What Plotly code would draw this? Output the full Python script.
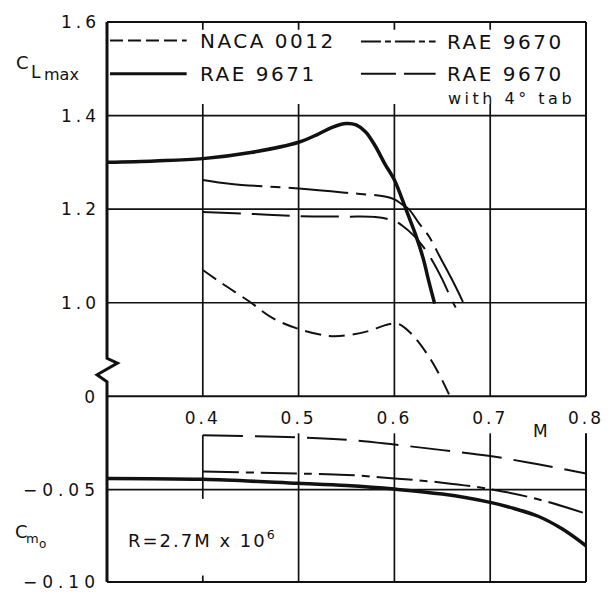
import plotly.graph_objects as go

# ---- C_L,max against Mach number (upper panel) ----
m_naca = [0.40, 0.421, 0.449, 0.473, 0.50, 0.532, 0.553, 0.574, 0.594, 0.605, 0.618, 0.633, 0.646, 0.657]
cl_naca = [1.07, 1.04, 1.002, 0.967, 0.944, 0.929, 0.931, 0.94, 0.954, 0.954, 0.933, 0.894, 0.85, 0.804]

m_9671 = [0.30, 0.35, 0.40, 0.45, 0.50, 0.52, 0.535, 0.55, 0.56, 0.57, 0.58, 0.59, 0.60, 0.608, 0.615, 0.622, 0.630, 0.636, 0.642]
cl_9671 = [1.300, 1.303, 1.308, 1.321, 1.343, 1.360, 1.375, 1.383, 1.380, 1.365, 1.335, 1.297, 1.2625, 1.222, 1.184, 1.146, 1.095, 1.045, 0.998]

m_9670 = [0.40, 0.43, 0.50, 0.55, 0.59, 0.60, 0.608, 0.615, 0.626, 0.636, 0.648, 0.660, 0.672]
cl_9670 = [1.2625, 1.254, 1.244, 1.235, 1.227, 1.221, 1.210, 1.200, 1.169, 1.142, 1.096, 1.050, 1.000]

m_9670_tab = [0.40, 0.45, 0.50, 0.55, 0.58, 0.60, 0.608, 0.620, 0.630, 0.639, 0.650, 0.660, 0.664]
cl_9670_tab = [1.194, 1.190, 1.185, 1.184, 1.183, 1.175, 1.165, 1.144, 1.120, 1.092, 1.050, 1.005, 0.990]

# ---- C_m0 against Mach number (lower panel) ----
m_cm_9671 = [0.30, 0.40, 0.50, 0.55, 0.60, 0.65, 0.70, 0.725, 0.75, 0.775, 0.80]
cm_9671 = [-0.0439, -0.0444, -0.0466, -0.0478, -0.0497, -0.0524, -0.0569, -0.0602, -0.0644, -0.0712, -0.0804]

m_cm_9670 = [0.40, 0.50, 0.55, 0.60, 0.65, 0.70, 0.75, 0.80]
cm_9670 = [-0.0402, -0.0413, -0.0420, -0.0439, -0.0462, -0.0497, -0.0552, -0.0630]

m_cm_9670_tab = [0.40, 0.50, 0.55, 0.60, 0.65, 0.70, 0.75, 0.80]
cm_9670_tab = [-0.0206, -0.0217, -0.0230, -0.0256, -0.0286, -0.0318, -0.0363, -0.0413]

# ---- axes ----
x_ticks = [0.4, 0.5, 0.6, 0.7, 0.8]
x_ticktext = ["0.4", "0.5", "0.6", "0.7", "0.8"]
cl_ticks = [1.0, 1.2, 1.4, 1.6]
cl_ticktext = ["1.0", "1.2", "1.4", "1.6"]
cm_ticks = [-0.10, -0.05, 0.0]
cm_ticktext = ["\u22120.10", "\u22120.05", "0"]

X_RANGE = (0.3, 0.8)
CL_RANGE = (0.8, 1.6)
CM_RANGE = (-0.10, 0.0)
TOP_DOM = (0.3316, 1.0)
BOT_DOM = (0.0, 0.3298)

W, H = 616, 604
ML, MR, MT, MB = 107, 28, 19, 12
PW, PH = W - ML - MR, H - MT - MB

INK = "#111111"
FONT = "DejaVu Sans"


def spaced(txt, px):
    return f'<span style="letter-spacing:{px}px">{txt}</span>'


def xp(m):
    return (m - X_RANGE[0]) / (X_RANGE[1] - X_RANGE[0])


def yp_top(cl):
    return TOP_DOM[0] + (cl - CL_RANGE[0]) / (CL_RANGE[1] - CL_RANGE[0]) * (TOP_DOM[1] - TOP_DOM[0])


def yp_bot(cm):
    return BOT_DOM[0] + (cm - CM_RANGE[0]) / (CM_RANGE[1] - CM_RANGE[0]) * (BOT_DOM[1] - BOT_DOM[0])


def pix(xpx, ypx):
    """page pixel -> paper fraction"""
    return (xpx - ML) / PW, (H - MB - ypx) / PH


def seg(x0, y0, x1, y1, width=1.7, dash="solid", layer="below"):
    return dict(type="line", xref="paper", yref="paper", x0=x0, y0=y0, x1=x1, y1=y1,
                line=dict(color=INK, width=width, dash=dash), layer=layer)


DASH_NACA = "16px,8px"
DASH_9670_TOP = "60px,8px,10px,8px"
DASH_9670_BOT = "36px,7px,8px,7px"
DASH_TAB = "38px,11px"
SMOOTH = 1.0

fig = go.Figure()

# upper panel curves
fig.add_trace(go.Scatter(x=m_naca, y=cl_naca, mode="lines", xaxis="x", yaxis="y",
                         line=dict(color=INK, width=2, dash=DASH_NACA, shape="spline", smoothing=SMOOTH)))
fig.add_trace(go.Scatter(x=m_9671, y=cl_9671, mode="lines", xaxis="x", yaxis="y",
                         line=dict(color=INK, width=3.5, shape="spline", smoothing=SMOOTH)))
fig.add_trace(go.Scatter(x=m_9670, y=cl_9670, mode="lines", xaxis="x", yaxis="y",
                         line=dict(color=INK, width=2, dash=DASH_9670_TOP, shape="spline", smoothing=SMOOTH)))
fig.add_trace(go.Scatter(x=m_9670_tab, y=cl_9670_tab, mode="lines", xaxis="x", yaxis="y",
                         line=dict(color=INK, width=2, dash=DASH_TAB, shape="spline", smoothing=SMOOTH)))

# lower panel curves
fig.add_trace(go.Scatter(x=m_cm_9671, y=cm_9671, mode="lines", xaxis="x2", yaxis="y2",
                         line=dict(color=INK, width=3.5, shape="spline", smoothing=SMOOTH)))
fig.add_trace(go.Scatter(x=m_cm_9670, y=cm_9670, mode="lines", xaxis="x2", yaxis="y2",
                         line=dict(color=INK, width=2, dash=DASH_9670_BOT, shape="spline", smoothing=SMOOTH)))
fig.add_trace(go.Scatter(x=m_cm_9670_tab, y=cm_9670_tab, mode="lines", xaxis="x2", yaxis="y2",
                         line=dict(color=INK, width=2, dash="40px,12px", shape="spline", smoothing=SMOOTH)))

shapes = []

# upper panel grid
for m in x_ticks[:-1]:
    shapes.append(seg(xp(m), yp_top(CL_RANGE[0]), xp(m), yp_top(CL_RANGE[1])))
for cl in cl_ticks[:-1]:
    shapes.append(seg(xp(X_RANGE[0]), yp_top(cl), xp(X_RANGE[1]), yp_top(cl)))

# white panel behind the key
kx0, ky0 = pix(110, 103)
kx1, ky1 = pix(586, 27)
shapes.append(dict(type="rect", xref="paper", yref="paper", x0=kx0, y0=ky0, x1=kx1, y1=ky1,
                   fillcolor="white", line=dict(width=0), layer="below"))

# upper panel frame (top, right, bottom)
shapes.append(seg(xp(0.3), yp_top(1.6), xp(0.8), yp_top(1.6), width=2))
shapes.append(seg(xp(0.8), yp_top(0.8), xp(0.8), yp_top(1.6), width=2))
shapes.append(seg(xp(0.3), yp_top(0.8), xp(0.8), yp_top(0.8), width=2))

# lower panel grid and frame
CM_GRID_TOP = -0.0195
shapes.append(seg(xp(0.3), yp_bot(-0.05), xp(0.8), yp_bot(-0.05)))
for m in [0.5, 0.6, 0.7]:
    shapes.append(seg(xp(m), yp_bot(CM_GRID_TOP), xp(m), yp_bot(-0.10)))
shapes.append(seg(xp(0.4), yp_bot(-0.0205), xp(0.4), yp_bot(-0.055)))
shapes.append(seg(xp(0.4), yp_bot(-0.0965), xp(0.4), yp_bot(-0.10)))
shapes.append(seg(xp(0.8), yp_bot(CM_GRID_TOP), xp(0.8), yp_bot(-0.10), width=2))
shapes.append(seg(xp(0.3), yp_bot(-0.10), xp(0.8), yp_bot(-0.10), width=2))

# left axis with the broken-scale zigzag
zig = [(0.3, yp_top(1.6)), (0.3, yp_top(0.881)), (0.3109, yp_top(0.871)),
       (0.2896, yp_top(0.846)), (0.3, yp_top(0.831)), (0.3, yp_top(0.8)),
       (0.3, yp_bot(0.0)), (0.3, yp_bot(-0.10))]
path = "M " + " L ".join(f"{xp(a):.5f},{b:.5f}" for a, b in zig)
shapes.append(dict(type="path", xref="paper", yref="paper", path=path,
                   line=dict(color=INK, width=3), layer="above"))


# key samples
def key_line(xa, xb, ypx, width, dash):
    a, y = pix(xa, ypx)
    b, _ = pix(xb, ypx)
    return seg(a, y, b, y, width=width, dash=dash, layer="above")


shapes.append(key_line(110, 187, 38, 2, "13px,5px"))
shapes.append(key_line(110, 187, 72, 3, "solid"))
shapes.append(key_line(362, 437, 39, 2, "20px,4px,6px,4px"))
shapes.append(key_line(362, 437, 72, 2, "35px,8px"))

annotations = []


def label(txt, xpx, ypx, size, xanchor="left"):
    x, y = pix(xpx, ypx)
    annotations.append(dict(text=txt, x=x, y=y, xref="paper", yref="paper",
                            xanchor=xanchor, yanchor="middle", showarrow=False,
                            font=dict(family=FONT, size=size, color=INK)))


label(spaced("NACA 0012", 2.5), 198, 38, 20)
label(spaced("RAE 9671", 2.5), 198, 72, 20)
label(spaced("RAE 9670", 2.5), 446, 39, 20)
label(spaced("RAE 9670", 2.5), 446, 72, 20)
label(spaced("with 4\u00b0 tab", 3.5), 447, 97, 16)

label("C", 22, 60, 18, "center")
label("L", 36, 70, 17, "center")
label("max", 42, 73, 16)
label("C", 21, 540, 18, "center")
label("m", 32, 548, 13, "center")
label("o", 42, 553, 12, "center")
label("M", 542, 437, 17, "center")
label(spaced("R=2.7M x 10<sup>6</sup>", 2), 126, 548, 18)

tick_font = dict(family=FONT, size=17, color=INK)

fig.update_layout(
    width=W, height=H,
    margin=dict(l=ML, r=MR, t=MT, b=MB, pad=0),
    paper_bgcolor="white", plot_bgcolor="rgba(0,0,0,0)",
    showlegend=False,
    shapes=shapes,
    annotations=annotations,
    xaxis=dict(domain=[0, 1], range=list(X_RANGE), anchor="y",
               tickvals=x_ticks, ticktext=[spaced(t, 3) for t in x_ticktext],
               ticks="", showgrid=False, zeroline=False, showline=False,
               tickfont=tick_font, ticklabelstandoff=10),
    yaxis=dict(domain=list(TOP_DOM), range=list(CL_RANGE), anchor="x",
               tickvals=cl_ticks, ticktext=[spaced(t, 4) for t in cl_ticktext],
               ticks="", showgrid=False, zeroline=False, showline=False,
               tickfont=tick_font, ticklabelstandoff=6),
    xaxis2=dict(domain=[0, 1], range=list(X_RANGE), anchor="y2",
                showticklabels=False, ticks="", showgrid=False, zeroline=False, showline=False),
    yaxis2=dict(domain=list(BOT_DOM), range=list(CM_RANGE), anchor="x2",
                tickvals=cm_ticks, ticktext=[spaced(t, 5) for t in cm_ticktext],
                ticks="", showgrid=False, zeroline=False, showline=False,
                tickfont=tick_font, ticklabelstandoff=6),
)

fig.write_html("out.html")
